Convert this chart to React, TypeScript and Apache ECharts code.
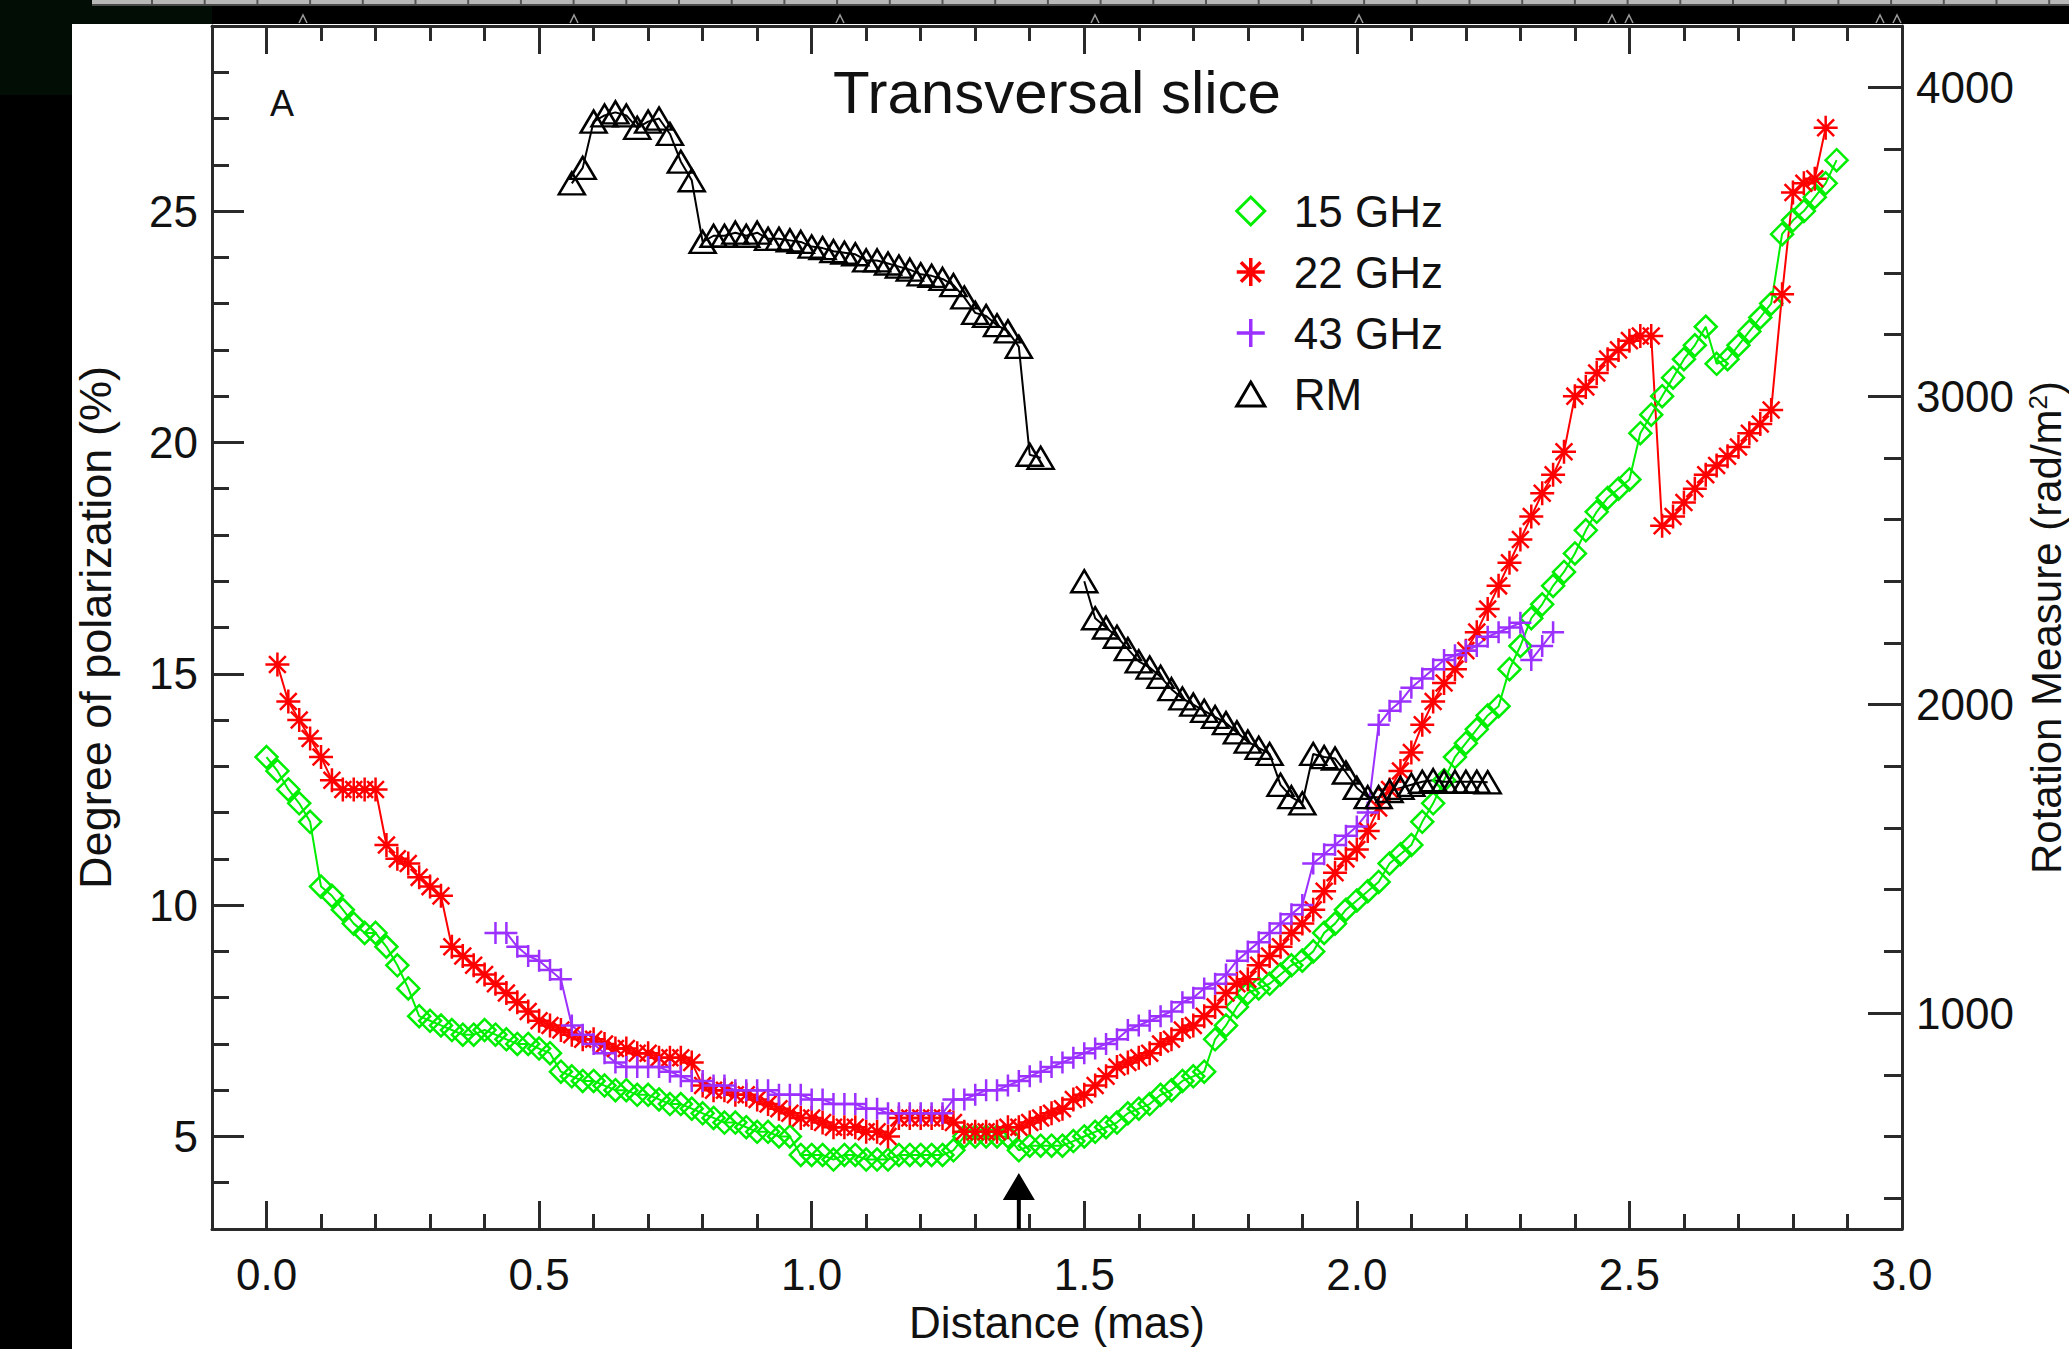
import React, { useEffect, useRef } from 'react';
import * as echarts from 'echarts';

const FONT = '"Liberation Sans", Arial, Helvetica, sans-serif';
const TXT = '#111111';
const AXC = '#2a2a2a';
const GREEN = '#00ee00';
const RED = '#ff0000';
const PURPLE = '#9b30ff';
const BLACK = '#000000';

// Distance (mas) vs degree of polarization (%)
const pol15: [number, number][] = [
  [0.00,13.2],[0.02,12.9],[0.04,12.5],[0.06,12.2],[0.08,11.8],[0.10,10.4],[0.12,10.2],[0.14,9.9],[0.16,9.6],[0.18,9.4],
  [0.20,9.4],[0.22,9.1],[0.24,8.7],[0.26,8.2],[0.28,7.6],[0.30,7.5],[0.32,7.4],[0.34,7.3],[0.36,7.2],[0.38,7.2],
  [0.40,7.3],[0.42,7.2],[0.44,7.1],[0.46,7.0],[0.48,7.0],[0.50,6.9],[0.52,6.8],[0.54,6.4],[0.56,6.3],[0.58,6.2],
  [0.60,6.2],[0.62,6.1],[0.64,6.0],[0.66,6.0],[0.68,5.9],[0.70,5.9],[0.72,5.8],[0.74,5.7],[0.76,5.7],[0.78,5.6],
  [0.80,5.5],[0.82,5.4],[0.84,5.3],[0.86,5.3],[0.88,5.2],[0.90,5.1],[0.92,5.1],[0.94,5.0],[0.96,5.0],[0.98,4.6],
  [1.00,4.6],[1.02,4.6],[1.04,4.5],[1.06,4.6],[1.08,4.6],[1.10,4.5],[1.12,4.5],[1.14,4.5],[1.16,4.6],[1.18,4.6],
  [1.20,4.6],[1.22,4.6],[1.24,4.6],[1.26,4.7],[1.28,5.0],[1.30,5.0],[1.32,5.0],[1.34,5.0],[1.36,5.0],[1.38,4.7],
  [1.40,4.8],[1.42,4.8],[1.44,4.8],[1.46,4.8],[1.48,4.9],[1.50,5.0],[1.52,5.1],[1.54,5.2],[1.56,5.3],[1.58,5.5],
  [1.60,5.6],[1.62,5.7],[1.64,5.9],[1.66,6.0],[1.68,6.2],[1.70,6.3],[1.72,6.4],[1.74,7.1],[1.76,7.4],[1.78,7.8],
  [1.80,8.1],[1.82,8.2],[1.84,8.3],[1.86,8.5],[1.88,8.7],[1.90,8.8],[1.92,9.0],[1.94,9.4],[1.96,9.6],[1.98,9.9],
  [2.00,10.1],[2.02,10.3],[2.04,10.5],[2.06,10.9],[2.08,11.1],[2.10,11.3],[2.12,11.8],[2.14,12.2],[2.16,12.7],[2.18,13.2],
  [2.20,13.5],[2.22,13.8],[2.24,14.1],[2.26,14.3],[2.28,15.1],[2.30,15.6],[2.32,16.2],[2.34,16.5],[2.36,16.9],[2.38,17.2],
  [2.40,17.6],[2.42,18.1],[2.44,18.5],[2.46,18.8],[2.48,19.0],[2.50,19.2],[2.52,20.2],[2.54,20.6],[2.56,21.0],[2.58,21.4],
  [2.60,21.8],[2.62,22.1],[2.64,22.5],[2.66,21.7],[2.68,21.8],[2.70,22.1],[2.72,22.4],[2.74,22.7],[2.76,23.0],[2.78,24.5],
  [2.80,24.8],[2.82,25.0],[2.84,25.3],[2.86,25.6],[2.88,26.1],
];

const pol22: [number, number][] = [
  [0.02,15.2],[0.04,14.4],[0.06,14.0],[0.08,13.6],[0.10,13.2],[0.12,12.7],[0.14,12.5],[0.16,12.5],[0.18,12.5],[0.20,12.5],
  [0.22,11.3],[0.24,11.0],[0.26,10.9],[0.28,10.6],[0.30,10.4],[0.32,10.2],[0.34,9.1],[0.36,8.9],[0.38,8.7],[0.40,8.5],
  [0.42,8.3],[0.44,8.1],[0.46,7.9],[0.48,7.7],[0.50,7.5],[0.52,7.4],[0.54,7.3],[0.56,7.2],[0.58,7.1],[0.60,7.1],
  [0.62,7.0],[0.64,6.9],[0.66,6.9],[0.68,6.8],[0.70,6.8],[0.72,6.7],[0.74,6.7],[0.76,6.7],[0.78,6.6],[0.80,6.1],
  [0.82,6.0],[0.84,6.0],[0.86,5.9],[0.88,5.9],[0.90,5.8],[0.92,5.7],[0.94,5.6],[0.96,5.5],[0.98,5.4],[1.00,5.4],
  [1.02,5.3],[1.04,5.2],[1.06,5.2],[1.08,5.2],[1.10,5.1],[1.12,5.1],[1.14,5.0],[1.16,5.4],[1.18,5.4],[1.20,5.4],
  [1.22,5.4],[1.24,5.4],[1.26,5.3],[1.28,5.1],[1.30,5.1],[1.32,5.1],[1.34,5.1],[1.36,5.2],[1.38,5.2],[1.40,5.3],
  [1.42,5.4],[1.44,5.5],[1.46,5.6],[1.48,5.8],[1.50,5.9],[1.52,6.1],[1.54,6.3],[1.56,6.5],[1.58,6.6],[1.60,6.7],
  [1.62,6.8],[1.64,7.0],[1.66,7.1],[1.68,7.3],[1.70,7.4],[1.72,7.6],[1.74,7.8],[1.76,8.1],[1.78,8.3],[1.80,8.4],
  [1.82,8.7],[1.84,8.9],[1.86,9.1],[1.88,9.4],[1.90,9.6],[1.92,9.9],[1.94,10.3],[1.96,10.7],[1.98,11.0],[2.00,11.2],
  [2.02,11.6],[2.04,12.1],[2.06,12.5],[2.08,12.9],[2.10,13.3],[2.12,13.9],[2.14,14.4],[2.16,14.8],[2.18,15.1],[2.20,15.5],
  [2.22,15.9],[2.24,16.4],[2.26,16.9],[2.28,17.4],[2.30,17.9],[2.32,18.4],[2.34,18.9],[2.36,19.3],[2.38,19.8],[2.40,21.0],
  [2.42,21.2],[2.44,21.5],[2.46,21.8],[2.48,22.0],[2.50,22.2],[2.52,22.3],[2.54,22.3],[2.56,18.2],[2.58,18.4],[2.60,18.7],
  [2.62,19.0],[2.64,19.3],[2.66,19.5],[2.68,19.7],[2.70,19.9],[2.72,20.2],[2.74,20.4],[2.76,20.7],[2.78,23.2],[2.80,25.4],
  [2.82,25.6],[2.84,25.7],[2.86,26.8],
];

const pol43: [number, number][] = [
  [0.42,9.4],[0.44,9.4],[0.46,9.1],[0.48,8.9],[0.50,8.8],[0.52,8.6],[0.54,8.4],[0.56,7.4],[0.58,7.2],[0.60,7.0],
  [0.62,6.8],[0.64,6.6],[0.66,6.5],[0.68,6.5],[0.70,6.5],[0.72,6.5],[0.74,6.4],[0.76,6.3],[0.78,6.2],[0.80,6.2],
  [0.82,6.1],[0.84,6.1],[0.86,6.0],[0.88,6.0],[0.90,6.0],[0.92,6.0],[0.94,5.9],[0.96,5.9],[0.98,5.9],[1.00,5.8],
  [1.02,5.8],[1.04,5.7],[1.06,5.7],[1.08,5.7],[1.10,5.6],[1.12,5.6],[1.14,5.5],[1.16,5.5],[1.18,5.5],[1.20,5.5],
  [1.22,5.5],[1.24,5.5],[1.26,5.8],[1.28,5.8],[1.30,5.9],[1.32,6.0],[1.34,6.0],[1.36,6.1],[1.38,6.2],[1.40,6.3],
  [1.42,6.4],[1.44,6.5],[1.46,6.6],[1.48,6.7],[1.50,6.8],[1.52,6.9],[1.54,7.0],[1.56,7.1],[1.58,7.3],[1.60,7.4],
  [1.62,7.5],[1.64,7.6],[1.66,7.7],[1.68,7.9],[1.70,8.0],[1.72,8.2],[1.74,8.3],[1.76,8.5],[1.78,8.8],[1.80,9.0],
  [1.82,9.2],[1.84,9.4],[1.86,9.6],[1.88,9.8],[1.90,10.0],[1.92,10.9],[1.94,11.1],[1.96,11.3],[1.98,11.5],[2.00,11.7],
  [2.02,12.0],[2.04,13.9],[2.06,14.2],[2.08,14.4],[2.10,14.7],[2.12,14.9],[2.14,15.1],[2.16,15.3],[2.18,15.4],[2.20,15.5],
  [2.22,15.6],[2.24,15.8],[2.26,15.9],[2.28,16.0],[2.30,16.1],[2.32,15.3],[2.34,15.6],[2.36,15.9],
];

// Distance (mas) vs rotation measure (rad/m^2), two separate segments
const rmA: [number, number][] = [
  [0.56,3690],[0.58,3740],[0.60,3890],[0.62,3910],[0.64,3920],[0.66,3910],[0.68,3870],[0.70,3890],[0.72,3900],[0.74,3850],
  [0.76,3760],[0.78,3700],[0.80,3500],[0.82,3520],[0.84,3520],[0.86,3530],[0.88,3520],[0.90,3530],[0.92,3510],[0.94,3510],
  [0.96,3505],[0.98,3500],[1.00,3485],[1.02,3480],[1.04,3470],[1.06,3465],[1.08,3460],[1.10,3440],[1.12,3440],[1.14,3430],
  [1.16,3420],[1.18,3410],[1.20,3395],[1.22,3390],[1.24,3380],[1.26,3360],[1.28,3320],[1.30,3270],[1.32,3260],[1.34,3230],
  [1.36,3210],[1.38,3160],[1.40,2810],[1.42,2800],
];
const rmB: [number, number][] = [
  [1.50,2400],[1.52,2280],[1.54,2250],[1.56,2220],[1.58,2180],[1.60,2140],[1.62,2120],[1.64,2090],[1.66,2050],[1.68,2020],
  [1.70,2000],[1.72,1980],[1.74,1960],[1.76,1940],[1.78,1910],[1.80,1880],[1.82,1860],[1.84,1840],[1.86,1740],[1.88,1700],
  [1.90,1680],[1.92,1840],[1.94,1830],[1.96,1825],[1.98,1780],[2.00,1730],[2.02,1700],[2.04,1700],[2.06,1720],[2.08,1730],
  [2.10,1740],[2.12,1750],[2.14,1755],[2.16,1750],[2.18,1750],[2.20,1750],[2.22,1750],[2.24,1748],
];

// Marker arrow position (mas) on the distance axis
const arrowAt: [number, number][] = [[1.38, 3]];

// Axis ticks / labels
const xMajor = [0, 0.5, 1.0, 1.5, 2.0, 2.5, 3.0];
const xMinor = [0.1,0.2,0.3,0.4,0.6,0.7,0.8,0.9,1.1,1.2,1.3,1.4,1.6,1.7,1.8,1.9,2.1,2.2,2.3,2.4,2.6,2.7,2.8,2.9];
const yLMajor = [5, 10, 15, 20, 25];
const yLMinor = [4,6,7,8,9,11,12,13,14,16,17,18,19,21,22,23,24,26,27,28];
const yRMajor = [1000, 2000, 3000, 4000];
const yRMinor = [400,600,800,1200,1400,1600,1800,2200,2400,2600,2800,3200,3400,3600,3800];

const legendNames = ['15 GHz', '22 GHz', '43 GHz', 'RM'];

const DIAMOND = 'path://M10,0L20,10L10,20L0,10Z';
const ASTER = 'path://M10,0L10,20M0,10L20,10M3,3L17,17M3,17L17,3';
const PLUS = 'path://M10,0L10,20M0,10L20,10';
const TRI = 'path://M10,0L20,17L0,17Z';
const ARROW = 'path://M16,0L32,27L18,27L18,56L14,56L14,27L0,27Z';

const X_MIN = -0.1, X_MAX = 3.0;
const YL_MIN = 3, YL_MAX = 29;
const YR_MIN = 300, YR_MAX = 4200;

const tickLine = { color: AXC, width: 3 };
const labelBase = { fontSize: 44, color: TXT, fontFamily: FONT };
const nameStyle = { fontSize: 45, color: TXT, fontFamily: FONT };

function xAx(position: string, vals: number[], len: number, main: boolean, labels: boolean) {
  return {
    type: 'value', position, min: X_MIN, max: X_MAX,
    axisLine: { show: main, onZero: false, lineStyle: { color: AXC, width: 3 } },
    axisTick: { show: true, inside: true, length: len, customValues: vals, lineStyle: tickLine },
    axisLabel: labels
      ? { show: true, customValues: vals, margin: 23, formatter: (v: number) => v.toFixed(1), ...labelBase }
      : { show: false },
    splitLine: { show: false },
    ...(labels ? { name: 'Distance (mas)', nameLocation: 'middle', nameGap: 62, nameTextStyle: { ...nameStyle, fontSize: 44 } } : {}),
  };
}

function yAx(position: string, min: number, max: number, vals: number[], len: number, main: boolean, labels: boolean, name?: any) {
  return {
    type: 'value', position, min, max,
    axisLine: { show: main, onZero: false, lineStyle: { color: AXC, width: 3 } },
    axisTick: { show: true, inside: true, length: len, customValues: vals, lineStyle: tickLine },
    axisLabel: labels
      ? { show: true, customValues: vals, margin: 14, formatter: (v: number) => String(v), ...labelBase }
      : { show: false },
    splitLine: { show: false },
    ...(name || {}),
  };
}

function buildOption() {
  const decor: any[] = [];
  decor.push({ type: 'rect', z: -10, shape: { x: 0, y: 0, width: 212, height: 95 }, style: { fill: '#020d06' } });
  decor.push({ type: 'rect', z: -10, shape: { x: 92, y: 0, width: 1977, height: 4 }, style: { fill: '#b8b8b8' } });
  decor.push({ type: 'line', z: -10, shape: { x1: 92, y1: 5, x2: 2069, y2: 5 }, style: { stroke: '#4a4a4a', lineWidth: 2 } });
  for (let px = 152; px < 2069; px += 52.7) {
    decor.push({ type: 'line', z: -10, shape: { x1: px, y1: 0, x2: px, y2: 4 }, style: { stroke: '#555', lineWidth: 2 } });
  }
  [303, 574, 840, 1095, 1359, 1612, 1629, 1880, 1897].forEach((cx) => {
    decor.push({ type: 'polyline', z: -10, shape: { points: [[cx - 4, 23], [cx, 15], [cx + 4, 23]] }, style: { stroke: '#9a9a9a', lineWidth: 1.5, fill: 'none' } });
  });
  decor.push({ type: 'rect', z: -10, shape: { x: 72, y: 24, width: 1997, height: 1325 }, style: { fill: '#ffffff' } });
  decor.push({ type: 'text', x: 1057, y: 92, style: { text: 'Transversal slice', fontSize: 60, fontFamily: FONT, fill: TXT, align: 'center', verticalAlign: 'middle' } });
  decor.push({ type: 'text', x: 282, y: 103, style: { text: 'A', fontSize: 36, fontFamily: FONT, fill: TXT, align: 'center', verticalAlign: 'middle' } });

  const lineSeries = (name: string, data: any, symbol: string, size: any, color: string, yIdx: number) => ({
    name, type: 'line', xAxisIndex: 0, yAxisIndex: yIdx, data,
    symbol, symbolSize: size,
    itemStyle: { color: 'transparent', borderColor: color, borderWidth: 2.5 },
    lineStyle: { color, width: 2 },
    emphasis: { disabled: true },
    silent: true,
  });

  return {
    animation: false,
    backgroundColor: '#000000',
    grid: { left: 212, right: 167, top: 26, bottom: 120, containLabel: false, outerBoundsMode: 'none' },
    graphic: { elements: decor },
    legend: {
      orient: 'vertical', left: 1235, top: 189, padding: 0, itemGap: 17,
      itemWidth: 28, itemHeight: 28, selectedMode: false,
      textStyle: { fontSize: 44, color: TXT, fontFamily: FONT, padding: [0, 0, 0, 24] },
      data: [
        { name: legendNames[0], icon: DIAMOND, itemStyle: { color: 'transparent', borderColor: GREEN, borderWidth: 3 } },
        { name: legendNames[1], icon: ASTER, itemStyle: { color: 'transparent', borderColor: RED, borderWidth: 3.5 } },
        { name: legendNames[2], icon: PLUS, itemStyle: { color: 'transparent', borderColor: PURPLE, borderWidth: 3.5 } },
        { name: legendNames[3], icon: TRI, itemStyle: { color: 'transparent', borderColor: BLACK, borderWidth: 3 } },
      ],
    },
    xAxis: [
      xAx('bottom', xMajor, 28, true, true),
      xAx('bottom', xMinor, 15, false, false),
      xAx('top', xMajor, 28, true, false),
      xAx('top', xMinor, 15, false, false),
    ],
    yAxis: [
      yAx('left', YL_MIN, YL_MAX, yLMajor, 32, true, true, {
        name: 'Degree of polarization (%)', nameLocation: 'middle', nameGap: 94, nameRotate: 90, nameTextStyle: nameStyle,
      }),
      yAx('left', YL_MIN, YL_MAX, yLMinor, 17, false, false),
      yAx('right', YR_MIN, YR_MAX, yRMajor, 34, true, true, {
        name: 'Rotation Measure (rad/m{sup|2})', nameLocation: 'middle', nameGap: 102, nameRotate: 90,
        nameTextStyle: { ...nameStyle, fontSize: 42, rich: { sup: { fontSize: 26, fontFamily: FONT, color: TXT, verticalAlign: 'top', padding: [0, 0, 18, 0] } } },
      }),
      yAx('right', YR_MIN, YR_MAX, yRMinor, 18, false, false),
    ],
    series: [
      lineSeries(legendNames[0], pol15, DIAMOND, 22, GREEN, 0),
      lineSeries(legendNames[1], pol22, ASTER, 24, RED, 0),
      lineSeries(legendNames[2], pol43, PLUS, 22, PURPLE, 0),
      lineSeries(legendNames[3], rmA, TRI, [26, 22], BLACK, 2),
      lineSeries(legendNames[3], rmB, TRI, [26, 22], BLACK, 2),
      {
        name: 'arrow', type: 'scatter', xAxisIndex: 0, yAxisIndex: 0, data: arrowAt,
        symbol: ARROW, symbolSize: [32, 56], symbolOffset: [0, -28], clip: false, silent: true,
        itemStyle: { color: BLACK, opacity: 1 },
      },
    ],
  };
}

export default function App() {
  const ref = useRef<HTMLDivElement>(null);
  useEffect(() => {
    if (!ref.current) return;
    const chart = echarts.init(ref.current, null, { renderer: 'svg' });
    chart.setOption(buildOption() as any);
    return () => chart.dispose();
  }, []);
  return <div ref={ref} style={{ position: 'fixed', left: 0, top: 0, width: 2069, height: 1349 }} />;
}
